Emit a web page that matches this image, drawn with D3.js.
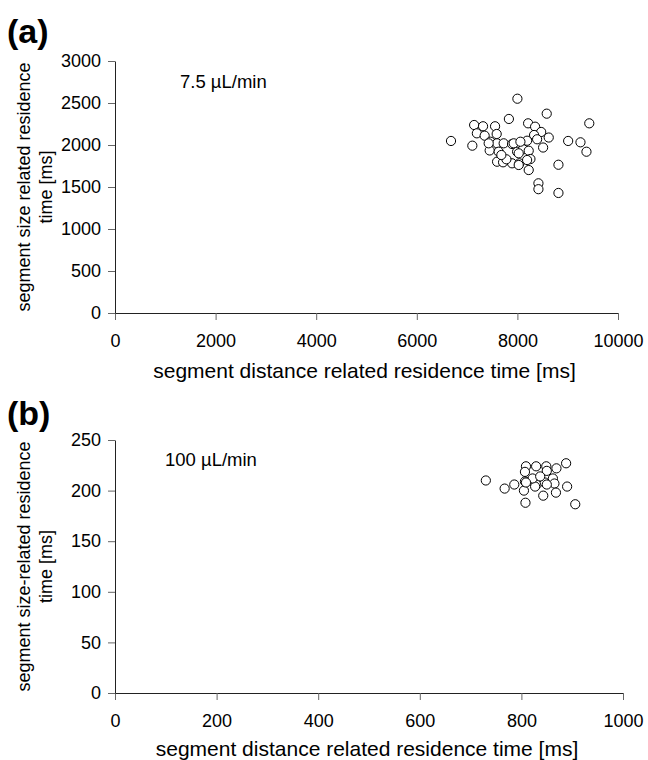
<!DOCTYPE html>
<html>
<head>
<meta charset="utf-8">
<script src="https://cdnjs.cloudflare.com/ajax/libs/d3/7.8.5/d3.min.js"></script>
<style>
  body { margin: 0; background: #fff; }
  svg text { font-family: "Liberation Sans", Arial, sans-serif; fill: #000; }
</style>
</head>
<body>
<svg width="648" height="760"></svg>
<script>
var svg = d3.select('svg');

// panel (a), 7.5 uL/min: distance related vs size related residence time [ms]
var distA = [6680, 7104, 7140, 7317, 7194, 7349, 7556, 7588, 7831, 8000,
             8583, 9429, 8213, 8352, 8473, 8332, 8623, 9009, 9254, 9373,
             8511, 8816, 8418, 8418, 8816, 7463, 7596, 7727, 7894, 8040,
             8193, 8392, 7449, 7628, 7662, 7596, 7715, 7894, 8040, 7994,
             8113, 8026, 8225, 8259, 8225, 8026, 7926, 8060, 7781, 7681,
             7429, 8193];
var sizeA = [2048, 1992, 2238, 2223, 2139, 2111, 2223, 2131, 2310, 2551,
             2373, 2258, 2258, 2218, 2155, 2119, 2089, 2048, 2032, 1920,
             1970, 1765, 1544, 1474, 1429, 2039, 2020, 2020, 2012, 2020,
             2051, 2068, 1935, 1920, 1821, 1801, 1794, 1782, 1782, 1920,
             1949, 1901, 1932, 1833, 1702, 1762, 2020, 2039, 1830, 1881,
             2020, 1821];

// panel (b), 100 uL/min
var distB = [730, 767, 786, 805, 808, 809, 829, 849, 869, 888,
             807, 850, 807, 823, 830, 846, 862, 865, 827, 850,
             890, 868, 843, 906, 822, 837, 809];
var sizeB = [210, 202, 206, 200, 188, 224, 224, 224, 222, 227,
             218.5, 219.5, 209, 209, 206, 208, 212, 207, 204, 206,
             204, 198, 195, 186.5, 212, 214, 208];

var ticksXA = [0, 2000, 4000, 6000, 8000, 10000];
var ticksYA = [0, 500, 1000, 1500, 2000, 2500, 3000];
var ticksXB = [0, 200, 400, 600, 800, 1000];
var ticksYB = [0, 50, 100, 150, 200, 250];

function drawPanel(opt){
    var g = svg.append('g').attr('transform', 'translate(' + opt.left + ',' + opt.top + ')');

    var x = d3.scaleLinear().domain([0, opt.xmax]).range([0, opt.w]);
    var y = d3.scaleLinear().domain([0, opt.ymax]).range([opt.h, 0]);

    //x axis along the bottom
    var xa = g.append('g').attr('transform', 'translate(0,' + opt.h + ')')
        .call(d3.axisBottom(x).tickValues(opt.xticks).tickFormat(d3.format('d'))
            .tickSize(7).tickSizeOuter(0).tickPadding(14));
    xa.select('.domain').attr('stroke', '#222');
    xa.selectAll('.tick line').attr('stroke', '#666');
    xa.selectAll('text').style('font-size', '18px');

    var ya = g.append('g')
        .call(d3.axisLeft(y).tickValues(opt.yticks).tickFormat(d3.format('d'))
            .tickSize(7).tickSizeOuter(0).tickPadding(7));
    ya.select('.domain').attr('stroke', '#222');
    ya.selectAll('.tick line').attr('stroke', '#666');
    ya.selectAll('text').style('font-size', '18px');

    g.selectAll('circle.pt')
        .data(opt.xs)
        .enter()
        .append('circle')
        .attr('class', 'pt')
        .attr('cx', function(d){ return x(d); })
        .attr('cy', function(d, i){ return y(opt.ys[i]); })
        .attr('r', 4.6)
        .attr('fill', '#fff')
        .attr('stroke', '#000')
        .attr('stroke-width', 1);

    //flow rate note
    g.append('text').attr('x', opt.noteX).attr('y', opt.noteY)
        .style('font-size', '18.5px').text(opt.note);

    //x title
    g.append('text').attr('x', opt.w / 2 - 2).attr('y', opt.h + opt.xTitleDy)
        .attr('text-anchor', 'middle').style('font-size', '21px')
        .text(opt.xtitle);

    //y title, two lines
    var yt = g.append('text')
        .attr('transform', 'translate(' + (-opt.left + 30) + ',' + (opt.h / 2) + ') rotate(-90)')
        .attr('text-anchor', 'middle').style('font-size', '18px');
    yt.append('tspan').attr('x', 0).attr('y', 0).text(opt.ytitle[0]);
    yt.append('tspan').attr('x', 0).attr('y', 22).text(opt.ytitle[1]);

    //panel letter
    svg.append('text').attr('x', 7).attr('y', opt.letterY)
        .style('font-size', '34px').style('font-weight', 'bold')
        .text(opt.letter);
}

drawPanel({
    left: 115, top: 61, w: 503, h: 252,
    xmax: 10000, ymax: 3000, xticks: ticksXA, yticks: ticksYA,
    xs: distA, ys: sizeA,
    note: '7.5 \u00b5L/min', noteX: 65, noteY: 27,
    xtitle: 'segment distance related residence time [ms]', xTitleDy: 65,
    ytitle: ['segment size related residence', 'time [ms]'],
    letter: '(a)', letterY: 43
});

drawPanel({
    left: 115, top: 440, w: 508, h: 253,
    xmax: 1000, ymax: 250, xticks: ticksXB, yticks: ticksYB,
    xs: distB, ys: sizeB,
    note: '100 \u00b5L/min', noteX: 50, noteY: 26,
    xtitle: 'segment distance related residence time [ms]', xTitleDy: 63,
    ytitle: ['segment size-related residence', 'time  [ms]'],
    letter: '(b)', letterY: 425
});
</script>
</body>
</html>
